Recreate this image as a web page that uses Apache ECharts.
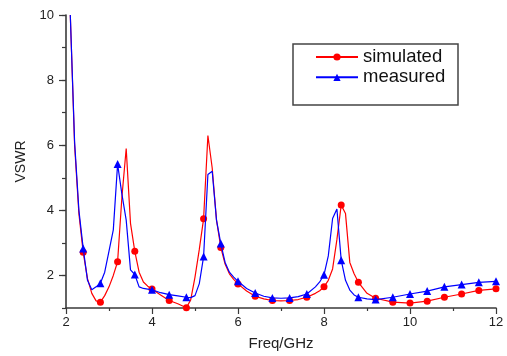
<!DOCTYPE html>
<html><head><meta charset="utf-8">
<script src="https://cdn.jsdelivr.net/npm/echarts@6/dist/echarts.min.js"></script>
<style>html,body{margin:0;padding:0;background:#fff}#c{width:507px;height:356px}</style>
</head><body><div id="c"></div>
<script>
const freq = [2.1,2.2,2.3,2.4,2.5,2.6,2.7,2.8,2.9,3.0,3.1,3.2,3.3,3.4,3.5,3.6,3.7,3.8,3.9,4.0,
  4.2,4.4,4.6,4.8,
  4.9,5.0,5.1,5.2,5.3,5.4,5.5,5.6,5.7,5.8,5.9,6.0,
  6.2,6.4,6.6,6.8,7.0,7.2,7.4,7.6,7.8,
  7.9,8.0,8.1,8.2,8.3,8.4,8.5,8.6,8.7,8.8,
  9.0,9.2,
  9.6,10.0,10.4,10.8,11.2,11.6,12.0];
const simulated = [10,6.0,3.9,2.71,1.9,1.45,1.22,1.18,1.38,1.65,2.0,2.42,4.4,5.9,3.6,2.74,2.1,1.8,1.67,1.58,
  1.4,1.23,1.13,1.01,
  1.25,1.95,2.8,3.74,6.3,5.3,3.7,2.86,2.35,2.05,1.88,1.74,
  1.52,1.36,1.28,1.23,1.22,1.23,1.26,1.33,1.45,
  1.53,1.65,1.85,2.2,3.1,4.16,3.9,2.4,2.05,1.79,
  1.45,1.30,
  1.18,1.15,1.21,1.33,1.43,1.54,1.59];
const measured = [10,6.1,4.0,2.83,1.85,1.56,1.65,1.76,2.1,2.75,3.4,5.42,4.5,3.7,2.17,2.03,1.65,1.6,1.58,1.56,
  1.47,1.41,1.37,1.33,
  1.32,1.38,1.75,2.58,5.1,5.2,3.7,2.98,2.4,2.1,1.95,1.82,
  1.6,1.46,1.36,1.31,1.30,1.31,1.35,1.43,1.65,
  1.8,2.02,2.6,3.75,4.04,2.47,1.85,1.55,1.4,1.33,
  1.28,1.26,
  1.33,1.43,1.52,1.65,1.72,1.79,1.82];
const markerFreqs = [2.4,2.8,3.2,3.6,4.0,4.4,4.8,5.2,5.6,6.0,6.4,6.8,7.2,7.6,8.0,8.4,8.8,9.2,9.6,10.0,10.4,10.8,11.2,11.6,12.0];
const yTicks = [2,4,6,8,10];
const seriesNames = ['simulated','measured'];

function build(vals){
  return freq.map((f,i)=>{
    const isM = markerFreqs.some(m=>Math.abs(m-f)<1e-6);
    return isM ? {value:[f,vals[i]]} : {value:[f,vals[i]], symbol:'none'};
  });
}
const chart = echarts.init(document.getElementById('c'));
const axisCol = '#3a3a3a';
const txtCol = '#222';
chart.setOption({
  animation:false,
  grid:{left:66,right:11,top:15,bottom:44},
  graphic:[{type:'rect',z:1,shape:{x:293,y:44,width:165,height:61},style:{fill:'#fff',stroke:'#444',lineWidth:1.5}}],
  legend:{orient:'vertical',left:315,top:47.5,padding:0,z:10,itemWidth:42,itemHeight:9,itemGap:1.3,
    textStyle:{fontSize:18.5,lineHeight:18,color:'#111',fontFamily:'Liberation Sans'},
    data:seriesNames},
  xAxis:{type:'value',min:2,max:12,interval:2,
    name:'Freq/GHz',nameLocation:'middle',nameGap:28,
    nameTextStyle:{fontSize:15,color:txtCol,fontFamily:'Liberation Sans'},
    axisLine:{lineStyle:{color:axisCol,width:1.6}},
    axisTick:{length:6,lineStyle:{color:axisCol,width:1.2}},
    minorTick:{show:true,splitNumber:2,length:3,lineStyle:{color:axisCol,width:1.2}},
    axisLabel:{fontSize:13,color:txtCol,margin:8,fontFamily:'Liberation Sans'},
    splitLine:{show:false}},
  yAxis:[{type:'value',min:1,max:10,
    name:'VSWR',nameLocation:'middle',nameGap:37,
    nameTextStyle:{fontSize:14,color:txtCol,fontFamily:'Liberation Sans'},
    axisLine:{show:true,lineStyle:{color:axisCol,width:1.6}},
    axisTick:{show:true,length:7,customValues:yTicks,lineStyle:{color:axisCol,width:1.2}},
    axisLabel:{customValues:yTicks,fontSize:13,color:txtCol,margin:12,fontFamily:'Liberation Sans'},
    splitLine:{show:false}},
   {type:'value',min:1,max:10,interval:1,position:'left',
    axisLine:{show:false},
    axisTick:{show:true,length:4,lineStyle:{color:axisCol,width:1.2}},
    axisLabel:{show:false},splitLine:{show:false}}],
  series:[
    {name:seriesNames[0],type:'line',data:build(simulated),color:'#ff0000',
     symbol:'circle',symbolSize:7,showAllSymbol:true,lineStyle:{width:1.2,color:'#ff0000'},
     itemStyle:{color:'#ff0000'},z:3},
    {name:seriesNames[1],type:'line',data:build(measured),color:'#0000ff',
     symbol:'triangle',symbolSize:8,showAllSymbol:true,lineStyle:{width:1.2,color:'#0000ff'},
     itemStyle:{color:'#0000ff'},z:4}
  ]
});
</script></body></html>
